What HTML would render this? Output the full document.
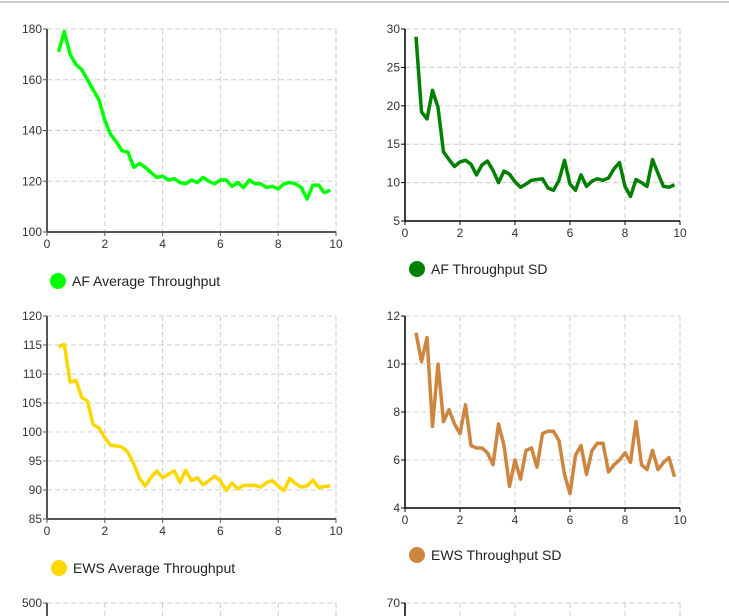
<!DOCTYPE html>
<html><head><meta charset="utf-8"><style>
html,body{margin:0;padding:0;background:#fff;width:729px;height:616px;overflow:hidden}
svg{display:block;font-family:"Liberation Sans",Arial,sans-serif}
</style></head><body>
<svg id="s" width="729" height="616"></svg>
<script>
const xs=[0.4,0.6,0.8,1.0,1.2,1.4,1.6,1.8,2.0,2.2,2.4,2.6,2.8,3.0,3.2,3.4,3.6,3.8,4.0,4.2,4.4,4.6,4.8,5.0,5.2,5.4,5.6,5.8,6.0,6.2,6.4,6.6,6.8,7.0,7.2,7.4,7.6,7.8,8.0,8.2,8.4,8.6,8.8,9.0,9.2,9.4,9.6,9.8];
const afAvg=[171,179,170,166,164,160,156,152,144,138.5,135.5,132,131.5,125.5,127,125.5,123.5,121.5,122,120.5,121,119.5,119,120.5,119.5,121.5,120,119,120.5,120.5,118,119.5,117.5,120.5,119,119,117.5,118,117,119,119.5,119,117.5,113,118.5,118.5,115.5,116.5];
const afSd=[29,19.2,18.3,22,19.8,14,13,12.1,12.7,12.9,12.4,11,12.3,12.8,11.6,10,11.5,11.1,10.1,9.4,9.8,10.3,10.4,10.5,9.3,9,10.3,12.9,9.8,9,11,9.5,10.2,10.5,10.3,10.6,11.8,12.6,9.5,8.2,10.4,10,9.5,13,11.2,9.5,9.4,9.7];
const ewsAvg=[114.7,115.1,108.6,108.9,106,105.3,101.3,100.7,99,97.7,97.6,97.4,96.5,94.5,92,90.7,92.2,93.3,92.1,92.7,93.3,91.3,93.4,91.6,92.1,90.9,91.6,92.4,91.6,89.9,91.2,90.2,90.8,90.8,90.8,90.5,91.3,91.6,90.7,89.9,92,91.1,90.5,90.7,91.7,90.4,90.6,90.7];
const ewsSd=[11.3,10.1,11.1,7.4,10,7.6,8.1,7.5,7.1,8.3,6.6,6.5,6.5,6.3,5.8,7.5,6.6,4.9,6,5.2,6.4,6.5,5.7,7.1,7.2,7.2,6.8,5.4,4.6,6.2,6.6,5.4,6.4,6.7,6.7,5.5,5.8,6.0,6.3,5.9,7.6,5.8,5.6,6.4,5.6,5.9,6.1,5.3];
const xTicks=[0,2,4,6,8,10];
const afAvgTicks=[100,120,140,160,180];
const afSdTicks=[5,10,15,20,25,30];
const ewsAvgTicks=[85,90,95,100,105,110,115,120];
const ewsSdTicks=[4,6,8,10,12];
const NS="http://www.w3.org/2000/svg";
const svg=document.getElementById('s');
function mk(tag,attrs,parent,text){const e=document.createElementNS(NS,tag);for(const k in attrs)e.setAttribute(k,attrs[k]);if(text!==undefined)e.textContent=text;(parent||svg).appendChild(e);return e;}
const tb=mk('line',{x1:0,y1:2,x2:729,y2:2,stroke:'#ccc','stroke-width':2});


function chart(name,x0,x1,yTop,yBot,ticks,ys,color,label,lx,ly,axisCol,axisW){
  const g=mk('g',{});
  
  
  const ymin=ticks[0],ymax=ticks[ticks.length-1];
  const sx=v=>x0+(v-0)/(10-0)*(x1-x0);
  const sy=v=>yBot-(v-ymin)/(ymax-ymin)*(yBot-yTop);
  ticks.forEach(t=>{
    if(t!==ymin){const l=mk('line',{x1:x0,x2:x1,y1:sy(t),y2:sy(t),stroke:'#ccc','stroke-dasharray':'5,3'},g);
    
    }
    const tx=mk('text',{x:x0-5,y:sy(t)+4,'text-anchor':'end','font-size':12,fill:'#333'},g,String(t));
    
    
    mk('line',{x1:x0-4,x2:x0,y1:sy(t),y2:sy(t),stroke:axisCol},g);
  });
  xTicks.forEach(t=>{
    if(t!==0){const l=mk('line',{x1:sx(t),x2:sx(t),y1:yTop,y2:yBot,stroke:'#ccc','stroke-dasharray':'5,3'},g);
    
    }
    const tx=mk('text',{x:sx(t),y:yBot+16,'text-anchor':'middle','font-size':12,fill:'#333'},g,String(t));
    
    
    mk('line',{x1:sx(t),x2:sx(t),y1:yBot,y2:yBot+4,stroke:axisCol},g);
  });
  const ya=mk('line',{x1:x0,x2:x0,y1:yTop,y2:yBot,stroke:axisCol,'stroke-width':axisW},g);
  
  
  const xa=mk('line',{x1:x0,x2:x1,y1:yBot,y2:yBot,stroke:axisCol,'stroke-width':axisW},g);
  
  
  const d=ys.map((v,i)=>(i?'L':'M')+sx(xs[i]).toFixed(1)+','+sy(v).toFixed(1)).join('');
  const p=mk('path',{d:d,fill:'none',stroke:color,'stroke-width':3.5,'stroke-linejoin':'round'},g);
  
  
  const c=mk('circle',{cx:lx,cy:ly,r:8,fill:color},g);
  
  
  const lt=mk('text',{x:lx+14,y:ly+5,'font-size':14,fill:'#222'},g,label);
  
  
}
chart('af-average-chart',47,336,29,232,afAvgTicks,afAvg,'#00ff00','AF Average Throughput',58,281,'#555',2);
chart('af-sd-chart',405,680,29,221,afSdTicks,afSd,'#008000','AF Throughput SD',417,269,'#000',1.5);
chart('ews-average-chart',47,336,316,519,ewsAvgTicks,ewsAvg,'#ffd700','EWS Average Throughput',59,568,'#555',2);
chart('ews-sd-chart',405,680,316,508,ewsSdTicks,ewsSd,'#cd853f','EWS Throughput SD',417,555,'#000',1.5);
[[47,336,'500','#555',2],[405,680,'70','#000',1.5]].forEach(a=>{
  const g=mk('g',{});
  
  
  mk('line',{x1:a[0],x2:a[1],y1:603,y2:603,stroke:'#ccc','stroke-dasharray':'5,3'},g);
  [0.2,0.4,0.6,0.8,1].forEach(f=>mk('line',{x1:a[0]+f*(a[1]-a[0]),x2:a[0]+f*(a[1]-a[0]),y1:603,y2:616,stroke:'#ccc','stroke-dasharray':'5,3'},g));
  mk('line',{x1:a[0],x2:a[0],y1:603,y2:616,stroke:a[3],'stroke-width':a[4]},g);
  mk('line',{x1:a[0]-4,x2:a[0],y1:603,y2:603,stroke:a[3]},g);
  const t=mk('text',{x:a[0]-5,y:607,'text-anchor':'end','font-size':12,fill:'#333'},g,a[2]);
  
  
});
</script>
</body></html>
